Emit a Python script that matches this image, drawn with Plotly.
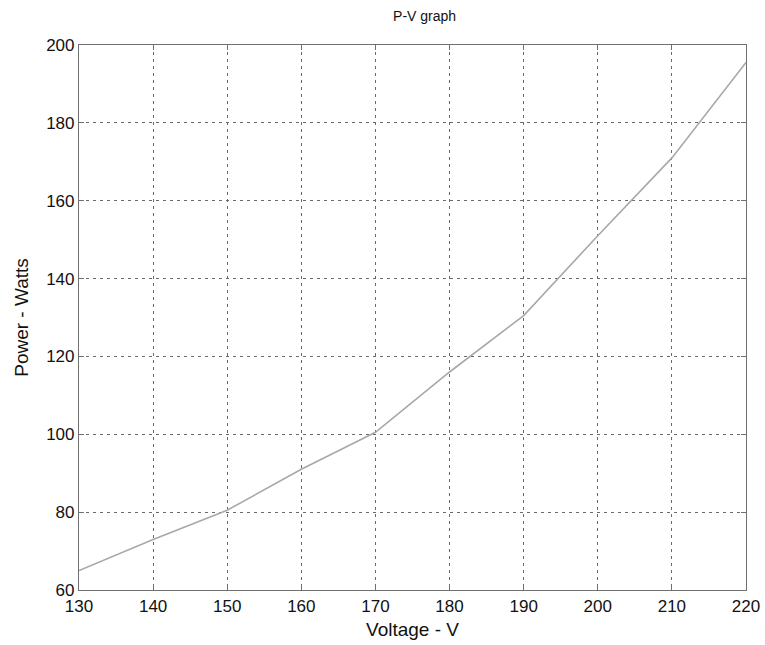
import plotly.graph_objects as go

# Measured power at each supply voltage
voltage_v = [130, 140, 150, 160, 170, 180, 190, 200, 210, 220]
power_w = [65, 73, 80.5, 91, 100.5, 116, 130.5, 151, 171, 195.5]

x_ticks = [130, 140, 150, 160, 170, 180, 190, 200, 210, 220]
y_ticks = [60, 80, 100, 120, 140, 160, 180, 200]

FONT = "Liberation Sans, Arial, sans-serif"
GRID = "#6a6a6a"
FRAME = "#707070"

fig = go.Figure()
fig.add_trace(go.Scatter(
    x=voltage_v, y=power_w, mode="lines",
    line=dict(color="#a8a8a8", width=1.6),
    showlegend=False,
))

axis_common = dict(
    showline=True, linecolor=FRAME, linewidth=1.2, mirror="ticks",
    ticks="inside", ticklen=5, tickcolor=FRAME, tickwidth=1,
    showgrid=True, gridcolor=GRID, gridwidth=1, griddash="3px,4px",
    zeroline=False, automargin=False,
    tickfont=dict(family=FONT, size=17, color="#111"),
)

fig.update_xaxes(
    range=[130, 220], tickvals=x_ticks,
    title=dict(text="Voltage - V", font=dict(family=FONT, size=19, color="#111"), standoff=8),
    **axis_common,
)
fig.update_yaxes(
    range=[60, 200], tickvals=y_ticks,
    title=dict(text="Power - Watts", font=dict(family=FONT, size=19, color="#111"), standoff=12),
    **axis_common,
)

fig.update_layout(
    width=765, height=645,
    margin=dict(l=79, r=19, t=45, b=55),
    paper_bgcolor="white", plot_bgcolor="white",
    title=dict(text="P-V graph", x=0.555, xanchor="center", y=0.975, yanchor="middle",
               font=dict(family=FONT, size=14, color="#111")),
)

fig.write_html("out.html")
